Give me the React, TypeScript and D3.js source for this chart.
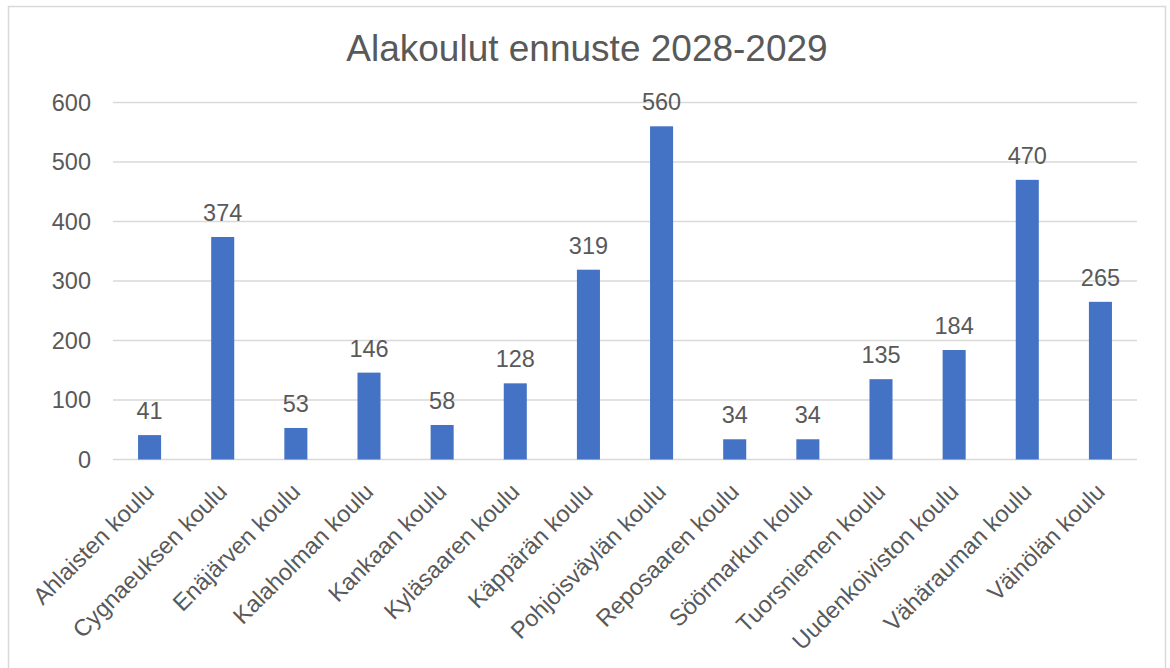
import React, { useEffect, useRef } from "react";
import * as d3 from "d3";

// school names (x categories) and forecast values
const schools = [
  "Ahlaisten koulu",
  "Cygnaeuksen koulu",
  "Enäjärven koulu",
  "Kalaholman koulu",
  "Kankaan koulu",
  "Kyläsaaren koulu",
  "Käppärän koulu",
  "Pohjoisväylän koulu",
  "Reposaaren koulu",
  "Söörmarkun koulu",
  "Tuorsniemen koulu",
  "Uudenkoiviston koulu",
  "Vähärauman koulu",
  "Väinölän koulu",
];
const pupils = [41, 374, 53, 146, 58, 128, 319, 560, 34, 34, 135, 184, 470, 265];
const yTicks = [0, 100, 200, 300, 400, 500, 600];
const title = "Alakoulut ennuste 2028-2029";

const App: React.FC = () => {
  const svgRef = useRef<SVGSVGElement | null>(null);

  useEffect(() => {
    if (!svgRef.current) return;
    const width = 1170;
    const height = 668;
    const margin = { top: 102.5, right: 33, bottom: 208.5, left: 113 };
    const innerWidth = width - margin.left - margin.right;
    const innerHeight = height - margin.top - margin.bottom;
    const font = "'Liberation Sans', Arial, sans-serif";
    const textColor = "#595959";

    const root = d3.select(svgRef.current);
    root.selectAll("*").remove();

    // chart area border
    root
      .append("rect")
      .attr("x", 8.5)
      .attr("y", 6.5)
      .attr("width", 1157)
      .attr("height", 700)
      .attr("fill", "white")
      .attr("stroke", "#D9D9D9")
      .attr("stroke-width", 1.5);

    root
      .append("text")
      .attr("x", 587)
      .attr("y", 61)
      .attr("text-anchor", "middle")
      .attr("font-family", font)
      .attr("font-size", 37)
      .attr("fill", textColor)
      .text(title);

    const svg = root
      .append("g")
      .attr("transform", `translate(${margin.left},${margin.top})`);

    const xScale = d3
      .scaleBand<string>()
      .domain(schools)
      .range([0, innerWidth])
      .paddingInner(0.685)
      .paddingOuter(0.3425);

    const yScale = d3.scaleLinear().domain([0, 600]).range([innerHeight, 0]);

    // gridlines
    svg
      .selectAll(".grid")
      .data(yTicks)
      .enter()
      .append("line")
      .attr("x1", 0)
      .attr("x2", innerWidth)
      .attr("y1", (d) => yScale(d))
      .attr("y2", (d) => yScale(d))
      .attr("stroke", "#D9D9D9")
      .attr("stroke-width", 1.5);

    // y tick labels
    svg
      .selectAll(".ytick")
      .data(yTicks)
      .enter()
      .append("text")
      .attr("x", -22)
      .attr("y", (d) => yScale(d))
      .attr("dy", "0.35em")
      .attr("text-anchor", "end")
      .attr("font-family", font)
      .attr("font-size", 23.5)
      .attr("fill", textColor)
      .text((d) => d);

    // bars
    svg
      .selectAll(".bar")
      .data(pupils)
      .enter()
      .append("rect")
      .attr("x", (_, i) => xScale(schools[i]) as number)
      .attr("y", (d) => yScale(d))
      .attr("width", xScale.bandwidth())
      .attr("height", (d) => innerHeight - yScale(d))
      .attr("fill", "#4472C4");

    // value labels
    svg
      .selectAll(".value")
      .data(pupils)
      .enter()
      .append("text")
      .attr("x", (_, i) => (xScale(schools[i]) as number) + xScale.bandwidth() / 2)
      .attr("y", (d) => yScale(d) - 16)
      .attr("text-anchor", "middle")
      .attr("font-family", font)
      .attr("font-size", 23.5)
      .attr("fill", textColor)
      .text((d) => d);

    // rotated category labels
    svg
      .selectAll(".xlabel")
      .data(schools)
      .enter()
      .append("text")
      .attr(
        "transform",
        (d) =>
          `translate(${(xScale(d) as number) + xScale.bandwidth() / 2},${innerHeight + 28}) rotate(-45)`
      )
      .attr("dy", "0.35em")
      .attr("text-anchor", "end")
      .attr("font-family", font)
      .attr("font-size", 23.5)
      .attr("fill", textColor)
      .text((d) => d);
  }, []);

  return (
    <svg
      ref={svgRef}
      width={1170}
      height={668}
      style={{ position: "fixed", left: 0, top: 0, background: "white" }}
    />
  );
};

export default App;
